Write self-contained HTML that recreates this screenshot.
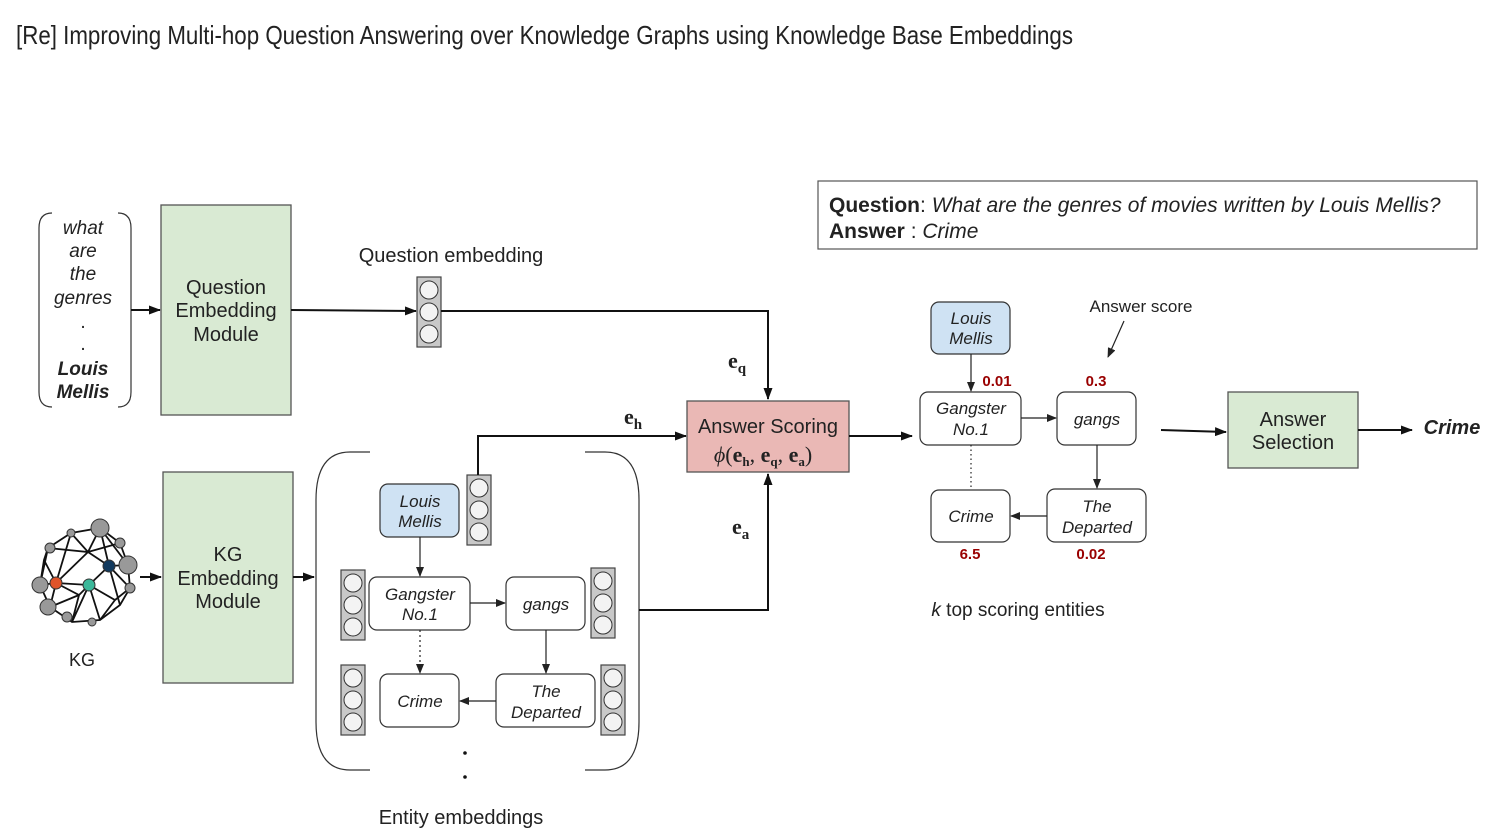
<!DOCTYPE html>
<html><head><meta charset="utf-8"><style>
html,body{margin:0;padding:0;background:#fff}
svg{display:block}
text{font-family:"Liberation Sans",Arial,sans-serif;fill:#222}
.i{font-style:italic}
.s{font-weight:bold;fill:#990000;font-size:15px}
</style></head><body>
<svg width="1499" height="838" viewBox="0 0 1499 838" xmlns="http://www.w3.org/2000/svg">
<defs>
<marker id="a" markerWidth="12" markerHeight="9" refX="11" refY="4.5" orient="auto" markerUnits="userSpaceOnUse"><path d="M0,0 L12,4.5 L0,9 z" fill="#111"/></marker>
<marker id="b" markerWidth="10" markerHeight="8" refX="9" refY="4" orient="auto" markerUnits="userSpaceOnUse"><path d="M0,0 L10,4 L0,8 z" fill="#222"/></marker>
<g id="v"><rect x="0" y="0" width="24" height="70" fill="#c8c8c8" stroke="#444" stroke-width="1.2"/><circle cx="12" cy="13" r="9" fill="#f3f3f3" stroke="#333"/><circle cx="12" cy="35" r="9" fill="#f3f3f3" stroke="#333"/><circle cx="12" cy="57" r="9" fill="#f3f3f3" stroke="#333"/></g>
</defs>
<text x="16" y="44" font-size="26" textLength="1057" lengthAdjust="spacingAndGlyphs" style="font-family:'Liberation Sans Narrow','Liberation Sans',sans-serif;font-weight:300">[Re] Improving Multi-hop Question Answering over Knowledge Graphs using Knowledge Base Embeddings</text>

<path d="M52,213 Q39,213 39,228 L39,392 Q39,407 52,407 M118,213 Q131,213 131,228 L131,392 Q131,407 118,407" fill="none" stroke="#333" stroke-width="1.2"/>
<g font-size="19" text-anchor="middle">
<text x="83" y="234" class="i">what</text><text x="83" y="257" class="i">are</text><text x="83" y="280" class="i">the</text><text x="83" y="304" class="i">genres</text>
<text x="83" y="328">.</text><text x="83" y="350">.</text>
<text x="83" y="375" font-weight="bold" class="i">Louis</text><text x="83" y="398" font-weight="bold" class="i">Mellis</text></g>
<line x1="131" y1="310" x2="160" y2="310" stroke="#111" stroke-width="2" marker-end="url(#a)"/>
<rect x="161" y="205" width="130" height="210" fill="#d9ead3" stroke="#555" stroke-width="1.3"/>
<g font-size="20" text-anchor="middle"><text x="226" y="294">Question</text><text x="226" y="317">Embedding</text><text x="226" y="341">Module</text></g>
<line x1="291" y1="310" x2="416" y2="311" stroke="#111" stroke-width="2" marker-end="url(#a)"/>
<use href="#v" x="417" y="277"/>
<text x="451" y="262" font-size="20" text-anchor="middle">Question embedding</text>
<polyline points="441,311 768,311 768,399" fill="none" stroke="#111" stroke-width="2" marker-end="url(#a)"/>
<text x="728" y="368" font-size="22" font-weight="bold" style="font-family:'Liberation Serif',serif">e<tspan font-size="15" dy="5">q</tspan></text>

<g stroke="#111" stroke-width="1.8" fill="none">
<path d="M48,548 L71,533 L100,528 L120,543 L128,565 L130,588 L120,605 L100,620 L72,622 L50,607 L40,585 L44,560 Z"/>
<path d="M48,548 L88,552 L100,528 M71,533 L88,552 L120,543 M88,552 L109,566 L128,565 M109,566 L89,585 L56,583 L40,585 M56,583 L88,552 M89,585 L72,622 M89,585 L100,620 M109,566 L120,605 M109,566 L130,588 M56,583 L50,607 M56,583 L79,595 L89,585 M79,595 L72,622 M44,560 L56,583 M100,528 L109,566 M71,533 L56,583 M89,585 L115,600 L130,588 M79,595 L50,607 M115,600 L100,620 M100,528 L128,565 M48,548 L40,585"/>
</g>
<g stroke="#333" stroke-width="1">
<circle cx="100" cy="528" r="9" fill="#999"/><circle cx="128" cy="565" r="9" fill="#999"/><circle cx="40" cy="585" r="8" fill="#999"/><circle cx="48" cy="607" r="8" fill="#999"/>
<circle cx="50" cy="548" r="5" fill="#999"/><circle cx="71" cy="533" r="4" fill="#999"/><circle cx="120" cy="543" r="5" fill="#999"/><circle cx="130" cy="588" r="5" fill="#999"/><circle cx="67" cy="617" r="5" fill="#999"/><circle cx="92" cy="622" r="4" fill="#999"/>
<circle cx="56" cy="583" r="6" fill="#e0542a"/><circle cx="89" cy="585" r="6" fill="#3bb89a"/><circle cx="109" cy="566" r="6" fill="#123a5e"/></g>
<text x="82" y="666" font-size="18" text-anchor="middle">KG</text>
<line x1="140" y1="577" x2="161" y2="577" stroke="#111" stroke-width="2" marker-end="url(#a)"/>
<rect x="163" y="472" width="130" height="211" fill="#d9ead3" stroke="#555" stroke-width="1.3"/>
<g font-size="20" text-anchor="middle"><text x="228" y="561">KG</text><text x="228" y="585">Embedding</text><text x="228" y="608">Module</text></g>
<line x1="293" y1="577" x2="314" y2="577" stroke="#111" stroke-width="2" marker-end="url(#a)"/>

<path d="M370,452 L350,452 Q316,452 316,500 L316,722 Q316,770 350,770 L370,770 M585,452 L605,452 Q639,452 639,500 L639,722 Q639,770 605,770 L585,770" fill="none" stroke="#333" stroke-width="1.2"/>
<g stroke="#333" stroke-width="1.2">
<rect x="380" y="484" width="79" height="53" rx="8" fill="#cfe2f3"/>
<rect x="369" y="577" width="101" height="53" rx="8" fill="#fff"/>
<rect x="506" y="577" width="79" height="53" rx="8" fill="#fff"/>
<rect x="380" y="674" width="79" height="53" rx="8" fill="#fff"/>
<rect x="496" y="674" width="99" height="53" rx="8" fill="#fff"/>
</g>
<g font-size="17" text-anchor="middle">
<text x="420" y="507" class="i">Louis</text><text x="420" y="527" class="i">Mellis</text>
<text x="420" y="600" class="i">Gangster</text><text x="420" y="620" class="i">No.1</text>
<text x="546" y="610" class="i">gangs</text>
<text x="420" y="707" class="i">Crime</text>
<text x="546" y="697" class="i">The</text><text x="546" y="718" class="i">Departed</text></g>
<g stroke="#222" stroke-width="1.2">
<line x1="420" y1="537" x2="420" y2="576" marker-end="url(#b)"/>
<line x1="470" y1="603" x2="505" y2="603" marker-end="url(#b)"/>
<line x1="546" y1="630" x2="546" y2="673" marker-end="url(#b)"/>
<line x1="496" y1="701" x2="460" y2="701" marker-end="url(#b)"/>
<line x1="420" y1="630" x2="420" y2="673" stroke-dasharray="2,3" marker-end="url(#b)"/>
</g>
<use href="#v" x="467" y="475"/><use href="#v" x="341" y="570"/><use href="#v" x="591" y="568"/><use href="#v" x="341" y="665"/><use href="#v" x="601" y="665"/>
<circle cx="465" cy="753" r="1.8" fill="#111"/><circle cx="465" cy="777" r="1.8" fill="#111"/>
<text x="461" y="824" font-size="20" text-anchor="middle">Entity embeddings</text>

<polyline points="478,475 478,436 686,436" fill="none" stroke="#111" stroke-width="2" marker-end="url(#a)"/>
<text x="624" y="424" font-size="22" font-weight="bold" style="font-family:'Liberation Serif',serif">e<tspan font-size="15" dy="5">h</tspan></text>
<polyline points="639,610 768,610 768,474" fill="none" stroke="#111" stroke-width="2" marker-end="url(#a)"/>
<text x="732" y="534" font-size="22" font-weight="bold" style="font-family:'Liberation Serif',serif">e<tspan font-size="15" dy="5">a</tspan></text>

<rect x="687" y="401" width="162" height="71" fill="#eab8b5" stroke="#555" stroke-width="1.3"/>
<text x="768" y="433" font-size="20" text-anchor="middle">Answer Scoring</text>
<text x="763" y="462" font-size="22" text-anchor="middle" style="font-family:'Liberation Serif',serif"><tspan class="i">ϕ</tspan>(<tspan font-weight="bold">e</tspan><tspan font-size="13" font-weight="bold" dy="4">h</tspan><tspan dy="-4">, </tspan><tspan font-weight="bold">e</tspan><tspan font-size="13" font-weight="bold" dy="4">q</tspan><tspan dy="-4">, </tspan><tspan font-weight="bold">e</tspan><tspan font-size="13" font-weight="bold" dy="4">a</tspan><tspan dy="-4">)</tspan></text>
<line x1="849" y1="436" x2="912" y2="436" stroke="#111" stroke-width="2" marker-end="url(#a)"/>

<rect x="818" y="181" width="659" height="68" fill="#fff" stroke="#555" stroke-width="1.2"/>
<text x="829" y="212" font-size="21"><tspan font-weight="bold">Question</tspan>: <tspan class="i">What are the genres of movies written by Louis Mellis?</tspan></text>
<text x="829" y="238" font-size="21"><tspan font-weight="bold">Answer</tspan>  : <tspan class="i">Crime</tspan></text>
<g stroke="#333" stroke-width="1.2">
<rect x="931" y="302" width="79" height="52" rx="8" fill="#cfe2f3"/>
<rect x="920" y="392" width="101" height="53" rx="8" fill="#fff"/>
<rect x="1057" y="392" width="79" height="53" rx="8" fill="#fff"/>
<rect x="931" y="490" width="79" height="52" rx="8" fill="#fff"/>
<rect x="1047" y="489" width="99" height="53" rx="8" fill="#fff"/>
</g>
<g font-size="17" text-anchor="middle">
<text x="971" y="324" class="i">Louis</text><text x="971" y="344" class="i">Mellis</text>
<text x="971" y="414" class="i">Gangster</text><text x="971" y="435" class="i">No.1</text>
<text x="1097" y="425" class="i">gangs</text>
<text x="971" y="522" class="i">Crime</text>
<text x="1097" y="512" class="i">The</text><text x="1097" y="533" class="i">Departed</text></g>
<g stroke="#222" stroke-width="1.2">
<line x1="971" y1="354" x2="971" y2="391" marker-end="url(#b)"/>
<line x1="1021" y1="418" x2="1056" y2="418" marker-end="url(#b)"/>
<line x1="1097" y1="445" x2="1097" y2="488" marker-end="url(#b)"/>
<line x1="1047" y1="516" x2="1011" y2="516" marker-end="url(#b)"/>
<line x1="971" y1="445" x2="971" y2="489" stroke-dasharray="1.5,3"/>
<line x1="1124" y1="321" x2="1108" y2="357" marker-end="url(#b)"/>
</g>
<text x="1141" y="312" font-size="17" text-anchor="middle">Answer score</text>
<text x="997" y="386" class="s" text-anchor="middle">0.01</text>
<text x="1096" y="386" class="s" text-anchor="middle">0.3</text>
<text x="970" y="559" class="s" text-anchor="middle">6.5</text>
<text x="1091" y="559" class="s" text-anchor="middle">0.02</text>
<text x="1018" y="616" font-size="19" text-anchor="middle"><tspan class="i">k</tspan> top scoring entities</text>
<line x1="1161" y1="430" x2="1226" y2="432" stroke="#111" stroke-width="2" marker-end="url(#a)"/>
<rect x="1228" y="392" width="130" height="76" fill="#d9ead3" stroke="#555" stroke-width="1.3"/>
<g font-size="20" text-anchor="middle"><text x="1293" y="426">Answer</text><text x="1293" y="449">Selection</text></g>
<line x1="1358" y1="430" x2="1412" y2="430" stroke="#111" stroke-width="2" marker-end="url(#a)"/>
<text x="1452" y="434" font-size="20" font-weight="bold" class="i" text-anchor="middle">Crime</text>
</svg>
</body></html>
